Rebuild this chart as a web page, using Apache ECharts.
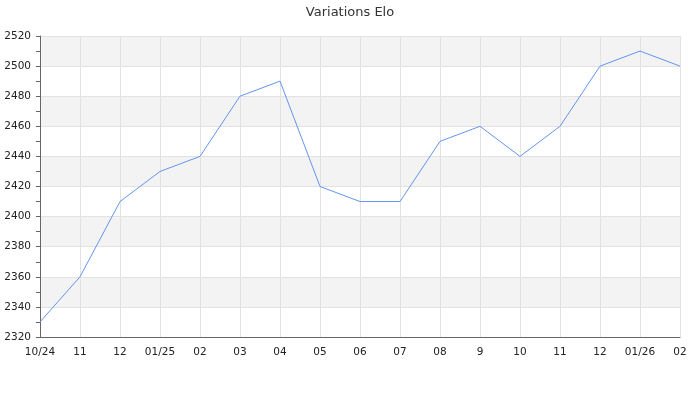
<!DOCTYPE html>
<html><head><meta charset="utf-8">
<script src="https://cdn.jsdelivr.net/npm/echarts@6/dist/echarts.min.js"></script>
<style>html,body{margin:0;padding:0;background:#fff}#c{width:700px;height:400px}</style>
</head><body><div id="c"></div>
<script>
const categories = ['10/24','11','12','01/25','02','03','04','05','06','07','08','9','10','11','12','01/26','02'];
const eloValues = [2330,2360,2410,2430,2440,2480,2490,2420,2410,2410,2450,2460,2440,2460,2500,2510,2500];
const chart = echarts.init(document.getElementById('c'), null, {renderer:'canvas'});
chart.setOption({
  animation:false,
  textStyle:{fontFamily:'DejaVu Sans'},
  title:{text:'Variations Elo', left:'center', top:1, textStyle:{fontSize:13, fontWeight:'normal', color:'#333', fontFamily:'DejaVu Sans'}},
  grid:{left:40, right:20, top:36, bottom:63, containLabel:false},
  xAxis:{type:'category', data:categories, boundaryGap:false,
    axisLine:{onZero:false, lineStyle:{color:'#666'}}, axisTick:{show:false},
    axisLabel:{color:'#222', fontSize:10.5, margin:10, interval:0},
    splitLine:{show:true, lineStyle:{color:'#e2e2e2'}}},
  yAxis:{type:'value', min:2320, max:2520, interval:20,
    axisLine:{show:true, onZero:false, lineStyle:{color:'#666'}},
    axisTick:{show:true, inside:false, length:4, lineStyle:{color:'#666'}},
    minorTick:{show:true, splitNumber:2, length:4, lineStyle:{color:'#666'}},
    axisLabel:{color:'#222', fontSize:10.5, margin:9, formatter:function(v){return String(v);}},
    splitLine:{show:true, lineStyle:{color:'#e2e2e2'}},
    splitArea:{show:true, areaStyle:{color:['#ffffff','#f3f3f3']}}},
  series:[{type:'line', data:eloValues, showSymbol:false, symbol:'none',
    lineStyle:{width:1, color:'#6495ed'}, itemStyle:{color:'#6495ed'}}]
});
</script></body></html>
